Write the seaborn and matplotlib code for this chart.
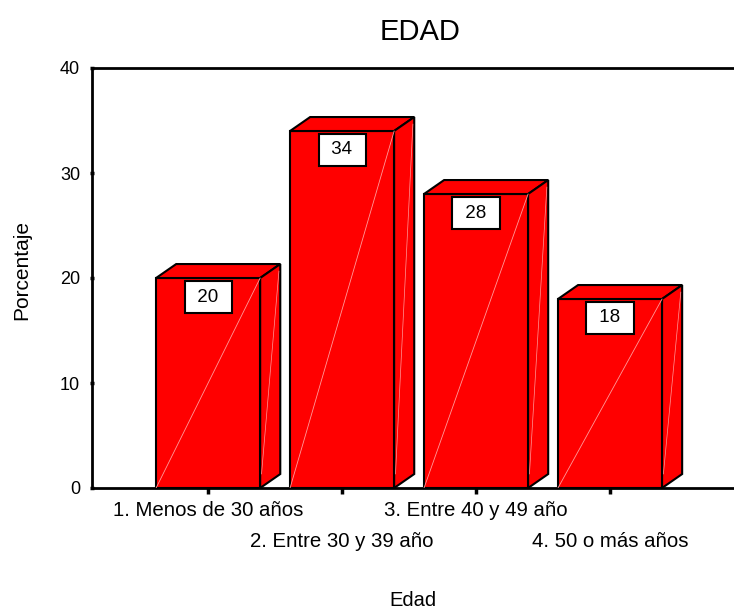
import matplotlib
matplotlib.use("Agg")
import matplotlib.pyplot as plt
import seaborn as sns
import pandas as pd
from matplotlib.patches import Polygon

categories = ["1. Menos de 30 años", "2. Entre 30 y 39 año", "3. Entre 40 y 49 año", "4. 50 o más años"]
values = [20, 34, 28, 18]
value_labels = ["20", "34", "28", "18"]
yticks = [0, 10, 20, 30, 40]

sns.set_theme(style="white")
plt.rcParams['font.family'] = ['Liberation Sans', 'DejaVu Sans']
plt.rcParams['text.color'] = 'black'
plt.rcParams['axes.labelcolor'] = 'black'

df = pd.DataFrame({"Edad": categories, "Porcentaje": values})

fig = plt.figure(figsize=(7.34, 6.13), dpi=100)
ax = fig.add_axes([92/734, (613-488)/613, (748-92)/734, 420/613])

RED = "#ff0000"
sns.barplot(data=df, x="Edad", y="Porcentaje", order=categories, color=RED,
            saturation=1, width=0.777, edgecolor="black", linewidth=1.5, ax=ax, zorder=3)

ax.set_xlim(-0.867, 4.03)
ax.set_ylim(0, 40)

# 3D depth in data units
dx = 0.15
dy = 1.33
for p, lab in zip(ax.patches, value_labels):
    x0 = p.get_x(); w = p.get_width(); h = p.get_height()
    top = Polygon([(x0, h), (x0 + w, h), (x0 + w + dx, h + dy), (x0 + dx, h + dy)],
                  closed=True, facecolor=RED, edgecolor="black", lw=1.5, zorder=3)
    side = Polygon([(x0 + w, 0), (x0 + w + dx, dy), (x0 + w + dx, h + dy), (x0 + w, h)],
                   closed=True, facecolor=RED, edgecolor="black", lw=1.5, zorder=3)
    ax.add_patch(top)
    ax.add_patch(side)
    ax.plot([x0, x0 + w], [0, h], color="#ff9a9a", lw=0.6, zorder=4)
    ax.plot([x0 + w + 0.01, x0 + w + dx - 0.01], [dy, h + dy * 0.5], color="#ff9a9a", lw=0.5, zorder=4)
    ax.text(x0 + w / 2, h - 1.0, " " + lab + " ", ha="center", va="top", fontsize=13.5,
            color="black", zorder=6,
            bbox=dict(boxstyle="square,pad=0.42", facecolor="white", edgecolor="black", lw=1.5))

# axes styling
for s in ["left", "top", "bottom"]:
    ax.spines[s].set_visible(True)
    ax.spines[s].set_color("black")
    ax.spines[s].set_linewidth(2)
ax.spines["right"].set_visible(False)

ax.set_yticks(yticks)
ax.set_yticklabels([str(t) for t in yticks], fontsize=13)

idx = list(range(len(categories)))
ax.set_xticks(idx[0::2], labels=categories[0::2], fontsize=14.7)
ax.set_xticks(idx[1::2], labels=categories[1::2], minor=True, fontsize=14.7)
ax.tick_params(axis="y", left=True, length=3, width=2.5, direction="inout", pad=7, colors="black")
ax.tick_params(axis="x", which="major", bottom=True, length=4, width=2.5, direction="out", pad=5, colors="black")
ax.tick_params(axis="x", which="minor", bottom=True, length=4, width=2.5, direction="out", pad=27.5, colors="black")

ax.set_xlabel("Edad", fontsize=14.5)
ax.xaxis.set_label_coords((413-92)/656, -(601-488)/420, transform=ax.transAxes)
ax.xaxis.label.set_va("center")
ax.set_ylabel("Porcentaje", fontsize=15)
ax.yaxis.set_label_coords(-(92-22)/656, 0.5 - (270-278)/420)
ax.yaxis.label.set_va("center")

ax.set_title("EDAD", fontsize=21, pad=20, color="black")

fig.savefig("out.png", dpi=100)
